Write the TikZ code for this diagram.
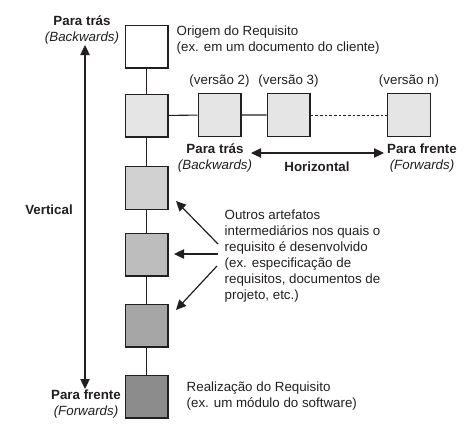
\documentclass[tikz,border=0pt]{standalone}
\usepackage{fontspec}
\setmainfont{Liberation Sans}
\usetikzlibrary{arrows.meta}
\definecolor{ink}{HTML}{231F20}
\begin{document}
\begin{tikzpicture}[x=0.75pt,y=-0.75pt,
  artefato/.style={draw=ink,line width=1pt,minimum size=32pt,inner sep=0pt},
  elo/.style={draw=ink,line width=0.8pt},
  seta/.style={draw=ink,line width=0.9pt,-{Triangle[length=7.5pt,width=7pt]}},
  setadupla/.style={draw=ink,line width=0.9pt,{Triangle[length=7.5pt,width=7pt]}-{Triangle[length=7.5pt,width=7pt]}},
  rotulo/.style={text=ink,font=\fontsize{10}{12}\selectfont,align=left,anchor=west},
  versao/.style={text=ink,font=\fontsize{10}{12}\selectfont,above=1pt},
  titulo/.style={text=ink,font=\fontsize{10}{12}\selectfont\bfseries},
  sub/.style={text=ink,font=\fontsize{10}{12}\selectfont\itshape}]
\useasboundingbox (0,0) rectangle (469,436);
% Eixo vertical de artefatos
\node[artefato,fill=white]          (v1) at (146.5,46.5)  {};
\node[artefato,fill=black!10]       (v2) at (146.5,115.5) {};
\node[artefato,fill=black!18]       (v3) at (146.5,188)   {};
\node[artefato,fill=black!26]       (v4) at (146.5,254.5) {};
\node[artefato,fill=black!35]       (v5) at (146.5,325.5) {};
\node[artefato,fill=black!45]       (v6) at (146.5,396.5) {};
\draw[elo] (v1) -- (v2) -- (v3) -- (v4) -- (v5) -- (v6);

% Versoes na horizontal
\node[artefato,fill=black!10] (h2) at (219.5,115) {};
\node[artefato,fill=black!10] (h3) at (288.5,115) {};
\node[artefato,fill=black!10] (hn) at (409,115)   {};
\draw[elo] (v2) -- (h2) -- (h3);
\draw[elo,line width=0.6pt,dash pattern=on 2pt off 1.5pt] (h3) -- (hn);
\node[versao] (t2) at (h2.north) {(versão 2)};
\node[versao] (t3) at (h3.north) {(versão 3)};
\node[versao] (tn) at (hn.north) {(versão n)};

% Textos dos extremos
\node[rotulo] (orig) at (172,40) {Origem do Requisito\\(ex. em um documento do cliente)};
\node[rotulo] (real) at (182,396.5) {Realização do Requisito\\(ex. um módulo do software)};
\node[rotulo] (outros) at (220,256.5) {Outros artefatos\\intermediários nos quais o\\requisito é desenvolvido\\(ex. especificação de\\requisitos, documentos de\\projeto, etc.)};
\coordinate (o1) at (218,244);
\coordinate (o2) at (218,254);
\coordinate (o3) at (217,266);
\coordinate (p3) at (176,201);
\coordinate (p4) at (174,254);
\coordinate (p5) at (176,310);
\draw[seta] (o1) -- (p3);
\draw[seta] (o2) -- (p4);
\draw[seta] (o3) -- (p5);

% Eixo vertical
\node[titulo] (vtras) at (82,21) {Para trás};
\node[sub]    (vback) at (82,38) {(Backwards)};
\node[titulo] (vfrente) at (86,395) {Para frente};
\node[sub]    (vfor)    at (86,412) {(Forwards)};
\node[titulo] (vert) at (49,210) {Vertical};
\coordinate (vtop) at (85,45);
\coordinate (vbot) at (85,389);
\draw[setadupla] (vtop) -- (vbot);

% Eixo horizontal
\node[titulo] (htras) at (215,149) {Para trás};
\node[sub]    (hback) at (215,166) {(Backwards)};
\node[titulo] (hfrente) at (422,149) {Para frente};
\node[sub]    (hfor)    at (422,166) {(Forwards)};
\node[titulo] (horiz) at (317,167) {Horizontal};
\coordinate (hl) at (251,153);
\coordinate (hr) at (384,153);
\draw[setadupla] (hl) -- (hr);
\end{tikzpicture}
\end{document}
